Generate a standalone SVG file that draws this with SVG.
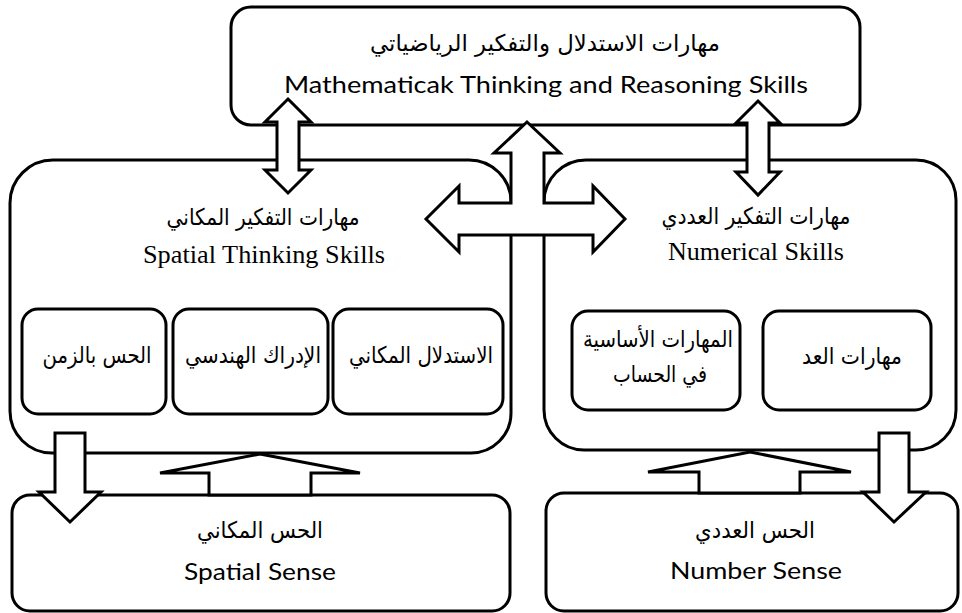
<svg xmlns="http://www.w3.org/2000/svg" width="962" height="613" viewBox="0 0 962 613">
<style>
.box{fill:#fff;stroke:#000;stroke-width:3}
.arr{fill:#fff;stroke:#000;stroke-width:3;stroke-linejoin:miter}
.ar{font-family:"DejaVu Sans","Noto Sans",sans-serif;font-size:23px;fill:#000;text-anchor:middle}
.en{font-family:Lato,"Open Sans",sans-serif;font-size:24px;fill:#000;text-anchor:middle}
.se{font-family:"Liberation Serif","Times New Roman",serif;font-size:26px;fill:#000;text-anchor:middle}
</style>
<rect width="962" height="613" fill="#fff"/>
<g id="math-skills">
<rect class="box" x="231" y="7" width="629" height="118" rx="20"/>
<text class="ar" x="545" y="51" direction="rtl" textLength="350" lengthAdjust="spacingAndGlyphs">مهارات الاستدلال والتفكير الرياضياتي</text>
<text class="en" x="546" y="93" textLength="524" lengthAdjust="spacingAndGlyphs">Mathematicak Thinking and Reasoning Skills</text>
</g>
<g id="spatial-thinking">
<path class="box" d="M53,160 H469 A42,42 0 0 1 511,202 V413 A40,40 0 0 1 471,453 H52 A42,42 0 0 1 10,411 V203 A43,43 0 0 1 53,160 Z"/>
<text class="ar" x="263" y="225" direction="rtl" textLength="193" lengthAdjust="spacingAndGlyphs">مهارات التفكير المكاني</text>
<text class="se" x="264" y="263" textLength="242" lengthAdjust="spacingAndGlyphs">Spatial Thinking Skills</text>
</g>
<g id="time-sense">
<rect class="box" x="22" y="309" width="144" height="105" rx="16"/>
<text class="ar" x="97" y="363" direction="rtl" textLength="109" lengthAdjust="spacingAndGlyphs">الحس بالزمن</text>
</g>
<g id="geometric-perception">
<rect class="box" x="173" y="309" width="155" height="105" rx="16"/>
<text class="ar" x="253" y="363" direction="rtl" textLength="136" lengthAdjust="spacingAndGlyphs">الإدراك الهندسي</text>
</g>
<g id="spatial-reasoning">
<rect class="box" x="333" y="309" width="170" height="105" rx="16"/>
<text class="ar" x="421" y="363" direction="rtl" textLength="144" lengthAdjust="spacingAndGlyphs">الاستدلال المكاني</text>
</g>
<g id="numerical-skills">
<path class="box" d="M586,160 H916 A40,40 0 0 1 956,200 V410 A40,40 0 0 1 916,450 H584 A40,40 0 0 1 544,410 V202 A42,42 0 0 1 586,160 Z"/>
<text class="ar" x="756" y="224" direction="rtl" textLength="189" lengthAdjust="spacingAndGlyphs">مهارات التفكير العددي</text>
<text class="se" x="756" y="260" textLength="176" lengthAdjust="spacingAndGlyphs">Numerical Skills</text>
</g>
<g id="basic-arithmetic">
<rect class="box" x="572" y="311" width="168" height="99" rx="16"/>
<text class="ar" x="658" y="347" direction="rtl" textLength="150" lengthAdjust="spacingAndGlyphs">المهارات الأساسية</text>
<text class="ar" x="660" y="382" direction="rtl" textLength="94" lengthAdjust="spacingAndGlyphs">في الحساب</text>
</g>
<g id="counting-skills">
<rect class="box" x="763" y="311" width="168" height="99" rx="16"/>
<text class="ar" x="852" y="364" direction="rtl" textLength="100" lengthAdjust="spacingAndGlyphs">مهارات العد</text>
</g>
<g id="spatial-sense">
<rect class="box" x="12" y="495" width="498" height="116" rx="18"/>
<text class="ar" x="260" y="538" direction="rtl" textLength="126" lengthAdjust="spacingAndGlyphs">الحس المكاني</text>
<text class="en" x="260" y="580" textLength="152" lengthAdjust="spacingAndGlyphs">Spatial Sense</text>
</g>
<g id="number-sense">
<rect class="box" x="546" y="493" width="412" height="118" rx="18"/>
<text class="ar" x="755" y="538" direction="rtl" textLength="120" lengthAdjust="spacingAndGlyphs">الحس العددي</text>
<text class="en" x="756" y="579" textLength="172" lengthAdjust="spacingAndGlyphs">Number Sense</text>
</g>
<g id="connectors">
<polygon class="arr" points="288,99 311,122 299,122 299,170 311,170 288,193 265,170 277,170 277,122 265,122"/>
<polygon class="arr" points="758,101 780,123 769,123 769,172 780,172 758,195 736,172 747,172 747,123 736,123"/>
<polygon class="arr" points="527,122 560,153 544,153 544,203 593,203 593,186 625,219 593,252 593,235 459,235 459,252 426,219 459,186 459,203 511,203 511,153 494,153"/>
<polygon class="arr" points="55,433 85,433 85,492 101,492 70,522 39,492 55,492"/>
<polygon class="arr" points="260,454 360,473 311,473 311,495 209,495 209,473 160,473"/>
<polygon class="arr" points="750,452 851,472 800,472 800,493 699,493 699,472 648,472"/>
<polygon class="arr" points="879,433 909,433 909,492 926,492 894,522 863,492 879,492"/>
</g>
</svg>
